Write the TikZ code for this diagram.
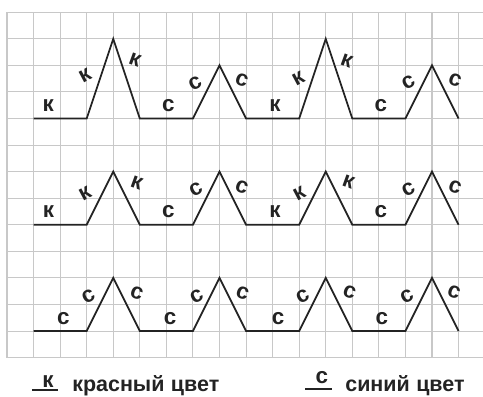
\documentclass[tikz,border=0pt]{standalone}
\usepackage{fontspec}
\setmainfont{Liberation Sans}
\usepackage{xcolor}
\definecolor{gridgray}{RGB}{200,200,200}
\definecolor{inkblack}{RGB}{35,35,35}

\begin{document}
\begin{tikzpicture}[x=1cm, y=1cm]
    % styles
    \tikzstyle{gridline}=[draw=gridgray, line width=1.1pt]
    \tikzstyle{zigzag}=[draw=inkblack, line width=1.9pt, line join=miter]
    \tikzstyle{keyline}=[draw=inkblack, line width=1.7pt]
    \tikzstyle{glyph}=[inner sep=0pt, text=inkblack, font=\fontsize{24}{28}\selectfont\bfseries]
    \tikzstyle{keytext}=[glyph, anchor=base west, font=\fontsize{23}{28}\selectfont\bfseries]
    \tikzstyle{upslope}=[glyph, rotate=28]
    \tikzstyle{downslope}=[glyph, rotate=-20]

    \useasboundingbox (-0.264,0.463) rectangle (17.92,-14.48);

    % Grid
    \foreach \x in {0,...,17}
      \draw[gridline] (\x,0) -- (\x,-13);
    \foreach \y in {0,...,13}
      \draw[gridline] (0,-\y) -- (17.92,-\y);

    % Zigzag lines
    \draw[zigzag] (1,-4) -- (3,-4) -- (4,-1) -- (5,-4) -- (7,-4) -- (8,-2) -- (9,-4)
      -- (11,-4) -- (12,-1) -- (13,-4) -- (15,-4) -- (16,-2) -- (17,-4);
    \draw[zigzag] (1,-8) -- (3,-8) -- (4,-6) -- (5,-8) -- (7,-8) -- (8,-6) -- (9,-8)
      -- (11,-8) -- (12,-6) -- (13,-8) -- (15,-8) -- (16,-6) -- (17,-8);
    \draw[zigzag] (1,-12) -- (3,-12) -- (4,-10) -- (5,-12) -- (7,-12) -- (8,-10) -- (9,-12)
      -- (11,-12) -- (12,-10) -- (13,-12) -- (15,-12) -- (16,-10) -- (17,-12);

    % Row 1 letters
    \node[glyph] (r1a) at (1.55,-3.53) {к};
    \node[upslope] (r1b) at (2.94,-2.40) {к};
    \node[downslope] (r1c) at (4.82,-1.80) {к};
    \node[glyph] (r1d) at (6.07,-3.53) {с};
    \node[upslope] (r1e) at (7.08,-2.67) {с};
    \node[downslope] (r1f) at (8.84,-2.55) {с};
    \node[glyph] (r1g) at (10.09,-3.53) {к};
    \node[upslope] (r1h) at (10.97,-2.49) {к};
    \node[downslope] (r1i) at (12.79,-1.83) {к};
    \node[glyph] (r1j) at (14.07,-3.53) {с};
    \node[upslope] (r1k) at (15.11,-2.65) {с};
    \node[downslope] (r1l) at (16.87,-2.55) {с};

    % Row 2 letters
    \node[glyph] (r2a) at (1.56,-7.51) {к};
    \node[upslope] (r2b) at (2.94,-6.84) {к};
    \node[downslope] (r2c) at (4.88,-6.42) {к};
    \node[glyph] (r2d) at (6.07,-7.51) {с};
    \node[upslope] (r2e) at (7.11,-6.66) {с};
    \node[downslope] (r2f) at (8.84,-6.57) {с};
    \node[glyph] (r2g) at (10.09,-7.51) {к};
    \node[upslope] (r2h) at (11.00,-6.82) {к};
    \node[downslope] (r2i) at (12.85,-6.38) {к};
    \node[glyph] (r2j) at (14.07,-7.51) {с};
    \node[upslope] (r2k) at (15.11,-6.66) {с};
    \node[downslope] (r2l) at (16.87,-6.57) {с};

    % Row 3 letters
    \node[glyph] (r3a) at (2.12,-11.52) {с};
    \node[upslope] (r3b) at (3.06,-10.68) {с};
    \node[downslope] (r3c) at (4.88,-10.56) {с};
    \node[glyph] (r3d) at (6.14,-11.52) {с};
    \node[upslope] (r3e) at (7.14,-10.68) {с};
    \node[downslope] (r3f) at (8.87,-10.56) {с};
    \node[glyph] (r3g) at (10.21,-11.52) {с};
    \node[upslope] (r3h) at (11.13,-10.68) {с};
    \node[downslope] (r3i) at (12.89,-10.52) {с};
    \node[glyph] (r3j) at (14.11,-11.52) {с};
    \node[upslope] (r3k) at (15.05,-10.68) {с};
    \node[downslope] (r3l) at (16.83,-10.52) {с};

    % Legend
    \coordinate (kl) at (0.94,-14.22);
    \coordinate (kr) at (1.92,-14.22);
    \draw[keyline] (kl) -- (kr);
    \node[glyph, anchor=base] (kkey) at (1.54,-14.14) {к};
    \node[keytext] (ktext) at (2.45,-14.28) {красный\hspace{0.3em}цвет};

    \coordinate (sl) at (11.22,-14.19);
    \coordinate (sr) at (12.22,-14.19);
    \draw[keyline] (sl) -- (sr);
    \node[glyph, anchor=base] (skey) at (11.85,-13.97) {с};
    \node[keytext] (stext) at (12.73,-14.26) {синий\hspace{0.3em}цвет};
\end{tikzpicture}
\end{document}
